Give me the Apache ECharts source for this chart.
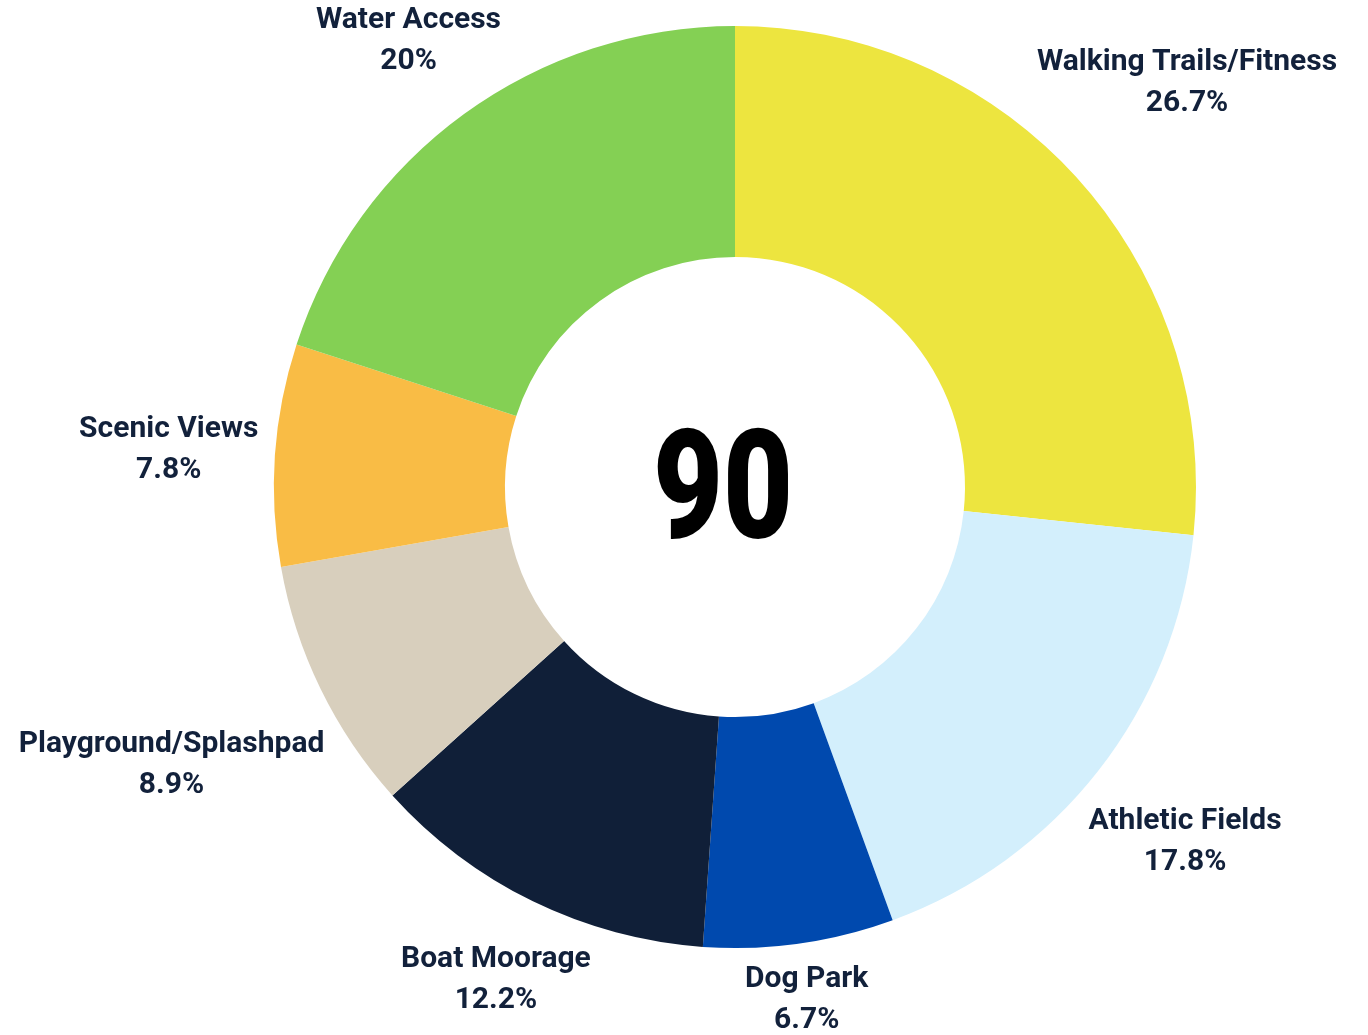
<!DOCTYPE html>
<html>
<head>
<meta charset="utf-8">
<script src="https://cdn.jsdelivr.net/npm/echarts@6/dist/echarts.min.js"></script>
<style>
  html, body { margin: 0; padding: 0; background: #ffffff; }
  #chart { width: 1368px; height: 1035px; }
</style>
</head>
<body>
<div id="chart"></div>
<script>
// ---- data ----
const categories = [
  'Walking Trails/Fitness',
  'Athletic Fields',
  'Dog Park',
  'Boat Moorage',
  'Playground/Splashpad',
  'Scenic Views',
  'Water Access'
];
const responses = [24, 16, 6, 11, 8, 7, 18];
const sliceColors = ['#EDE53F', '#D3EFFC', '#0049AE', '#101F38', '#D8CFBD', '#F9BC45', '#84D054'];

// ---- layout constants ----
const CX = 735, CY = 487, R_IN = 230, R_OUT = 461;
const GAP = 15;
const TEXT = '#12213B';

const total = responses.reduce((a, b) => a + b, 0);
const midAngles = [];
(function () {
  let acc = 0;
  responses.forEach(v => {
    const a0 = acc / total * Math.PI * 2;
    acc += v;
    const a1 = acc / total * Math.PI * 2;
    midAngles.push((a0 + a1) / 2);
  });
})();

function pctText(v) {
  const p = Math.round(v / total * 1000) / 10;
  return String(p) + '%';
}

const chart = echarts.init(document.getElementById('chart'), null, { renderer: 'canvas' });

chart.setOption({
  backgroundColor: '#ffffff',
  animation: false,
  series: [{
    type: 'pie',
    center: [CX, CY],
    radius: [R_IN, R_OUT],
    startAngle: 90,
    clockwise: true,
    avoidLabelOverlap: false,
    itemStyle: { borderWidth: 0 },
    label: {
      show: true,
      position: 'outside',
      formatter: p => p.name + '\n' + pctText(p.value),
      color: TEXT,
      fontFamily: 'Roboto',
      fontWeight: 'bold',
      fontSize: 30,
      lineHeight: 41,
      align: 'center'
    },
    labelLine: { show: false },
    labelLayout: function (p) {
      const i = p.dataIndex;
      const a = midAngles[i];
      const sx = Math.sin(a), sy = -Math.cos(a);
      const w = p.labelRect.width;
      const h = p.labelRect.height - 20;
      const d = R_OUT + GAP + (w / 2) * Math.abs(sx) + (h / 2) * Math.abs(sy);
      return { x: CX + d * sx, y: CY + d * sy + 3, align: 'center', verticalAlign: 'middle' };
    },
    emphasis: { disabled: true },
    data: categories.map((c, i) => ({
      name: c,
      value: responses[i],
      itemStyle: { color: sliceColors[i] }
    }))
  }],
  graphic: [{
    type: 'text',
    x: 723,
    y: 500,
    scaleX: 0.79,
    style: {
      text: String(total),
      fontFamily: 'Roboto',
      fontWeight: 900,
      fontSize: 153,
      fill: '#000000',
      align: 'center',
      verticalAlign: 'middle'
    }
  }]
});
</script>
</body>
</html>
